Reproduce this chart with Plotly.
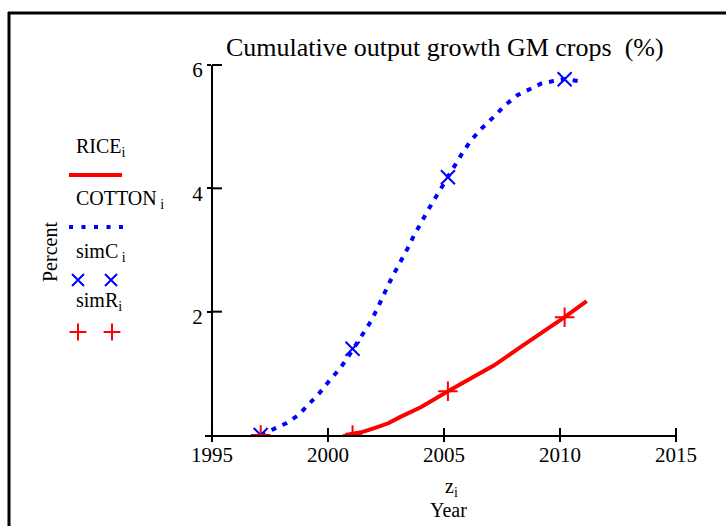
import plotly.graph_objects as go

# ---------------- data ----------------
cotton_year = [1997.1, 1997.64, 1998.2, 1998.72, 1999.2, 1999.63, 2000.06, 2000.54, 2000.89,
               2001.2, 2001.54, 2001.88, 2002.14, 2002.36, 2002.62, 2002.88, 2003.18, 2003.44,
               2003.7, 2003.96, 2004.26, 2004.57, 2004.87, 2005.17, 2005.52, 2005.82, 2006.17,
               2006.65, 2007.12, 2007.64, 2008.16, 2008.68, 2009.2, 2009.72, 2010.2, 2010.76]
cotton_pct = [0.0, 0.10, 0.19, 0.32, 0.50, 0.68, 0.88, 1.09, 1.28,
              1.47, 1.67, 1.86, 2.06, 2.25, 2.45, 2.64, 2.84, 3.03,
              3.23, 3.42, 3.61, 3.81, 4.00, 4.18, 4.39, 4.59, 4.78,
              4.98, 5.15, 5.35, 5.51, 5.61, 5.70, 5.74, 5.77, 5.74]

rice_year = [2000.75, 2001.5, 2002.0, 2002.6, 2003.1, 2004.0, 2005.17, 2006.0, 2007.16,
             2008.2, 2009.2, 2010.2, 2011.15]
rice_pct = [0.0, 0.05, 0.11, 0.19, 0.29, 0.45, 0.71, 0.88, 1.13,
            1.40, 1.65, 1.91, 2.17]

simC_year = [1997.1, 2001.06, 2005.17, 2010.2]
simC_pct = [0.0, 1.40, 4.18, 5.77]

simR_year = [1997.1, 2001.06, 2005.17, 2010.2]
simR_pct = [0.0, 0.0, 0.71, 1.91]

x_ticks = [1995, 2000, 2005, 2010, 2015]
y_ticks = [2, 4, 6]

title_text = "Cumulative output growth GM crops  (%)"
legend_labels = ["RICE<sub>i</sub>", "COTTON<sub> i</sub>", "simC<sub> i</sub>", "simR<sub>i</sub>"]

# ---------------- layout constants ----------------
W, H = 726, 526
FONT = "Liberation Serif, Times New Roman, serif"
RED = "#FF0000"
BLUE = "#0000FF"
X_RANGE = [1994.7, 2015.0]
Y_RANGE = [0.0, 6.0]
X_DOM = [205 / W, 676 / W]
Y_DOM = [(H - 435) / H, (H - 65) / H]


def px(xpix):
    return xpix / W


def py(ypix):
    return 1 - ypix / H


def xdata_to_paper(v):
    return X_DOM[0] + (v - X_RANGE[0]) / (X_RANGE[1] - X_RANGE[0]) * (X_DOM[1] - X_DOM[0])


def ydata_to_paper(v):
    return Y_DOM[0] + (v - Y_RANGE[0]) / (Y_RANGE[1] - Y_RANGE[0]) * (Y_DOM[1] - Y_DOM[0])


fig = go.Figure()

fig.add_trace(go.Scatter(x=rice_year, y=rice_pct, mode="lines",
                         line=dict(color=RED, width=4), showlegend=False))
fig.add_trace(go.Scatter(x=cotton_year, y=cotton_pct, mode="lines",
                         line=dict(color=BLUE, width=4, dash="5px,7px"), showlegend=False))
fig.add_trace(go.Scatter(x=simC_year, y=simC_pct, mode="markers",
                         marker=dict(symbol="x-thin", size=14, line=dict(color=BLUE, width=2)),
                         showlegend=False))
fig.add_trace(go.Scatter(x=simR_year, y=simR_pct, mode="markers",
                         marker=dict(symbol="cross-thin", size=14, line=dict(color=RED, width=2)),
                         showlegend=False))

# legend sample markers on a full-figure pixel axis
fig.add_trace(go.Scatter(x=[78, 111], y=[280, 280], xaxis="x2", yaxis="y2", mode="markers",
                         marker=dict(symbol="x-thin", size=12, line=dict(color=BLUE, width=2)),
                         showlegend=False, hoverinfo="skip"))
fig.add_trace(go.Scatter(x=[78, 112], y=[332, 332], xaxis="x2", yaxis="y2", mode="markers",
                         marker=dict(symbol="cross-thin", size=12, line=dict(color=RED, width=2)),
                         showlegend=False, hoverinfo="skip"))

shapes = []
# frame
shapes.append(dict(type="line", xref="paper", yref="paper", x0=px(8), x1=px(730), y0=py(13), y1=py(13),
                   line=dict(color="black", width=3)))
shapes.append(dict(type="line", xref="paper", yref="paper", x0=px(9), x1=px(9), y0=py(12), y1=py(530),
                   line=dict(color="black", width=3)))
# crossing ticks on the x axis
for t in x_ticks:
    xp = xdata_to_paper(t)
    shapes.append(dict(type="line", xref="paper", yref="paper", x0=xp, x1=xp,
                       y0=Y_DOM[0] - 7 / H, y1=Y_DOM[0] + 7 / H, line=dict(color="black", width=2)))
# inner part of the y ticks
for t in y_ticks:
    yp = ydata_to_paper(t)
    shapes.append(dict(type="line", xref="paper", yref="paper", x0=xdata_to_paper(1995),
                       x1=xdata_to_paper(1995) + 10 / W, y0=yp, y1=yp, line=dict(color="black", width=2)))
# legend sample lines
shapes.append(dict(type="line", xref="paper", yref="paper", x0=px(69), x1=px(122), y0=py(175), y1=py(175),
                   line=dict(color=RED, width=4)))
shapes.append(dict(type="line", xref="paper", yref="paper", x0=px(69), x1=px(124), y0=py(227), y1=py(227),
                   line=dict(color=BLUE, width=4, dash="4px,8.5px")))

annotations = []
annotations.append(dict(text=title_text, x=px(445), y=py(47), xref="paper", yref="paper",
                        showarrow=False, xanchor="center", yanchor="middle",
                        font=dict(family=FONT, size=26, color="black")))
for lab, ypix in zip(legend_labels, [147, 199, 252, 301]):
    annotations.append(dict(text=lab, x=px(74), y=py(ypix), xref="paper", yref="paper",
                            showarrow=False, xanchor="left", yanchor="middle",
                            font=dict(family=FONT, size=20, color="black")))
annotations.append(dict(text="Percent", x=px(50), y=py(252), xref="paper", yref="paper",
                        showarrow=False, textangle=-90, xanchor="center", yanchor="middle",
                        font=dict(family=FONT, size=20, color="black")))
annotations.append(dict(text="z<sub>i</sub>", x=px(451), y=py(487), xref="paper", yref="paper",
                        showarrow=False, xanchor="center", yanchor="middle",
                        font=dict(family=FONT, size=20, color="black")))
annotations.append(dict(text="Year", x=px(448), y=py(510), xref="paper", yref="paper",
                        showarrow=False, xanchor="center", yanchor="middle",
                        font=dict(family=FONT, size=20, color="black")))

fig.update_layout(
    width=W, height=H, autosize=False,
    margin=dict(l=0, r=0, t=0, b=0, pad=0),
    paper_bgcolor="white", plot_bgcolor="rgba(0,0,0,0)",
    showlegend=False,
    xaxis=dict(domain=X_DOM, range=X_RANGE, anchor="y", showline=True, linecolor="black", linewidth=2,
               ticks="", tickvals=x_ticks,
               showgrid=False, zeroline=False, automargin=False,
               tickfont=dict(family=FONT, size=21, color="black")),
    yaxis=dict(domain=Y_DOM, range=Y_RANGE, anchor="free", position=xdata_to_paper(1995),
               showline=True, linecolor="black", linewidth=2,
               ticks="outside", ticklen=4, tickwidth=2, tickcolor="black", tickvals=y_ticks,
               showgrid=False, zeroline=False, automargin=False, ticklabelshift=5,
               tickfont=dict(family=FONT, size=21, color="black")),
    xaxis2=dict(domain=[0, 1], range=[0, W], anchor="y2", visible=False, fixedrange=True),
    yaxis2=dict(domain=[0, 1], range=[H, 0], anchor="x2", visible=False, fixedrange=True),
    shapes=shapes,
    annotations=annotations,
)

fig.write_html("out.html", config={"displayModeBar": False},
               post_script="document.body.style.margin='0';document.body.style.overflow='hidden';")
